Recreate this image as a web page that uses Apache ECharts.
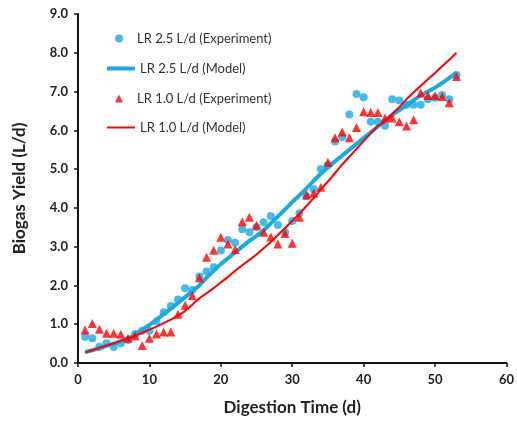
<!DOCTYPE html>
<html>
<head>
<meta charset="utf-8">
<script src="https://cdn.jsdelivr.net/npm/echarts@6/dist/echarts.min.js"></script>
<style>html,body{margin:0;padding:0;background:#fff}#c{width:517px;height:423px}</style>
</head>
<body>
<div id="c"></div>
<script>
var days = [1,2,3,4,5,6,7,8,9,10,11,12,13,14,15,16,17,18,19,20,21,22,23,24,25,26,27,28,29,30,31,32,33,34,35,36,37,38,39,40,41,42,43,44,45,46,47,48,49,50,51,52,53];
var exp25 = [0.68,0.64,0.42,0.51,0.41,0.51,0.59,0.75,0.83,0.83,1.07,1.31,1.47,1.64,1.93,1.88,2.23,2.36,2.47,2.90,3.17,3.10,3.45,3.37,3.50,3.63,3.79,3.56,3.37,3.66,3.86,4.30,4.48,5.00,5.10,5.71,5.82,6.41,6.94,6.85,6.22,6.22,6.12,6.80,6.77,6.66,6.66,6.66,6.80,6.84,6.91,6.80,7.43];
var model25 = [0.28,0.33,0.38,0.44,0.50,0.56,0.63,0.73,0.86,0.98,1.12,1.26,1.40,1.55,1.70,1.85,2.00,2.20,2.38,2.55,2.70,2.85,3.00,3.15,3.28,3.42,3.60,3.78,3.96,4.15,4.32,4.50,4.70,4.88,5.05,5.20,5.35,5.50,5.65,5.80,5.95,6.10,6.25,6.40,6.52,6.65,6.78,6.90,7.00,7.10,7.22,7.35,7.48];
var exp10 = [0.85,1.02,0.87,0.77,0.77,0.74,0.64,0.70,0.45,0.64,0.75,0.80,0.80,1.26,1.49,1.74,2.20,2.73,2.91,3.24,3.07,2.93,3.64,3.76,3.55,3.37,3.25,3.07,3.34,3.09,3.76,4.33,4.38,4.53,5.18,5.81,5.96,5.81,6.07,6.48,6.46,6.46,6.32,6.32,6.22,6.11,6.27,6.96,6.90,6.90,6.87,6.71,7.39];
var model10 = [0.27,0.33,0.39,0.45,0.51,0.57,0.63,0.70,0.78,0.86,0.94,1.03,1.12,1.22,1.34,1.50,1.67,1.80,1.93,2.08,2.22,2.38,2.52,2.66,2.80,2.96,3.12,3.30,3.48,3.66,3.85,4.05,4.25,4.48,4.68,4.90,5.12,5.32,5.52,5.72,5.92,6.12,6.22,6.42,6.60,6.80,6.98,7.15,7.32,7.48,7.65,7.82,8.00];
var names = ['LR 2.5 L/d (Experiment)','LR 2.5 L/d (Model)','LR 1.0 L/d (Experiment)','LR 1.0 L/d (Model)'];
var xTicks = {min:0,max:60,interval:10};
var yTicks = {min:0,max:9,interval:1};

function pairs(v){ return days.map(function(d,i){ return [d, v[i]]; }); }
var BLUE = '#1ba9e1', RED = '#ff0000';
var chart = echarts.init(document.getElementById('c'), null, {renderer:'canvas'});
var axisFont = {fontFamily:'Lato', fontWeight:'bold', fontSize:13, color:'#222'};
var legendText = {fontFamily:'Lato', fontSize:13, color:'#333'};
chart.setOption({
  animation:false,
  backgroundColor:'#fff',
  grid:{left:78, right:9, top:14, bottom:60},
  legend:[
    {
      orient:'vertical', left:110, top:27, itemWidth:8, itemHeight:8, itemGap:47,
      textStyle:Object.assign({padding:[0,0,0,9]}, legendText),
      data:[
        {name:names[0], icon:'circle'},
        {name:names[2], icon:'triangle'}
      ]
    },
    {
      orient:'vertical', left:100, top:57, itemWidth:28, itemHeight:8, itemGap:46,
      textStyle:legendText,
      data:[
        {name:names[1], itemStyle:{opacity:0}, lineStyle:{width:4}},
        {name:names[3], itemStyle:{opacity:0}, lineStyle:{width:2}}
      ]
    }
  ],
  xAxis:{
    type:'value', min:xTicks.min, max:xTicks.max, interval:xTicks.interval,
    name:'Digestion Time (d)', nameLocation:'middle', nameGap:36,
    nameTextStyle:{fontFamily:'Lato', fontWeight:'bold', fontSize:17, color:'#222'},
    axisLine:{lineStyle:{color:'#111', width:2}},
    axisTick:{show:true, length:4, lineStyle:{color:'#111', width:1.5}},
    axisLabel:Object.assign({margin:10}, axisFont),
    splitLine:{show:false}
  },
  yAxis:{
    type:'value', min:yTicks.min, max:yTicks.max, interval:yTicks.interval,
    name:'Biogas Yield (L/d)', nameLocation:'middle', nameGap:50,
    nameTextStyle:{fontFamily:'Lato', fontWeight:'bold', fontSize:17, color:'#222'},
    axisLine:{show:true, lineStyle:{color:'#111', width:2}},
    axisTick:{show:true, length:4, lineStyle:{color:'#111', width:1.5}},
    axisLabel:Object.assign({margin:10, formatter:function(v){return v.toFixed(1);}}, axisFont),
    splitLine:{show:false}
  },
  series:[
    {name:names[0], type:'scatter', data:pairs(exp25), symbol:'circle', symbolSize:8, itemStyle:{color:BLUE}, z:2},
    {name:names[1], type:'line', data:pairs(model25), symbol:'none', lineStyle:{color:BLUE, width:4}, itemStyle:{color:BLUE}, z:3},
    {name:names[2], type:'scatter', data:pairs(exp10), symbol:'triangle', symbolSize:9, itemStyle:{color:RED}, z:4},
    {name:names[3], type:'line', data:pairs(model10), symbol:'none', lineStyle:{color:RED, width:2}, itemStyle:{color:RED}, z:5}
  ]
});
</script>
</body>
</html>
